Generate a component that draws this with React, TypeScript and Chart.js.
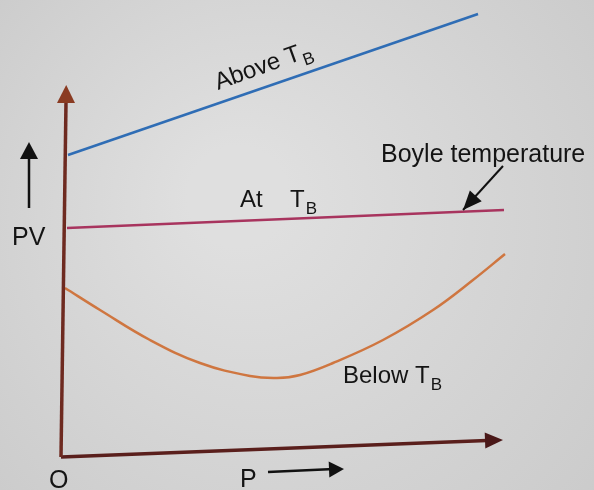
import React, { useEffect, useRef } from "react";
import { Chart, registerables } from "chart.js";

Chart.register(...registerables);

// Curves (abstract P, PV units)
const aboveX = [0.12, 8.32];
const aboveY = [6.04, 8.86];
const atX = [0.1, 8.84];
const atY = [4.58, 4.94];
const belowX = [0.06, 0.76, 1.76, 2.76, 3.76, 4.3, 4.76, 5.42, 6.42, 7.42, 8.22, 8.86];
const belowY = [3.38, 2.94, 2.34, 1.88, 1.62, 1.58, 1.64, 1.88, 2.34, 2.94, 3.54, 4.06];
// Axis lines (slightly tilted as in the photographed figure)
const yAxisX = [-0.02, 0.08];
const yAxisY = [0, 7.1];
const xAxisX = [-0.02, 8.5];
const xAxisY = [0, 0.33];

const zip = (xs: number[], ys: number[]) => xs.map((x, i) => ({ x, y: ys[i] }));

const FONT = "'Liberation Sans', Arial, Helvetica, sans-serif";

const annotationPlugin = {
  id: "annotations",
  beforeDraw(chart: any) {
    const { ctx, width, height } = chart;
    ctx.save();
    const g = ctx.createRadialGradient(width * 0.4, height * 0.4, 50, width * 0.5, height * 0.5, 420);
    g.addColorStop(0, "#dfdfdf");
    g.addColorStop(1, "#cacaca");
    ctx.fillStyle = g;
    ctx.fillRect(0, 0, width, height);
    ctx.restore();
  },
  afterDraw(chart: any) {
    const { ctx } = chart;
    const xs = chart.scales.x;
    const ys = chart.scales.y;
    const P = (x: number, y: number) => [xs.getPixelForValue(x), ys.getPixelForValue(y)];

    const arrowHead = (tip: number[], from: number[], len: number, half: number, color: string) => {
      const ang = Math.atan2(tip[1] - from[1], tip[0] - from[0]);
      ctx.save();
      ctx.translate(tip[0], tip[1]);
      ctx.rotate(ang);
      ctx.beginPath();
      ctx.moveTo(0, 0);
      ctx.lineTo(-len, -half);
      ctx.lineTo(-len, half);
      ctx.closePath();
      ctx.fillStyle = color;
      ctx.fill();
      ctx.restore();
    };
    const line = (a: number[], b: number[], color: string, w: number) => {
      ctx.save();
      ctx.beginPath();
      ctx.moveTo(a[0], a[1]);
      ctx.lineTo(b[0], b[1]);
      ctx.strokeStyle = color;
      ctx.lineWidth = w;
      ctx.stroke();
      ctx.restore();
    };
    const textTB = (pos: number[], main: string, rot = 0) => {
      ctx.save();
      ctx.translate(pos[0], pos[1]);
      ctx.rotate(rot);
      ctx.fillStyle = "#141414";
      ctx.textBaseline = "alphabetic";
      ctx.textAlign = "left";
      ctx.font = `24px ${FONT}`;
      ctx.fillText(main, 0, 0);
      const w = ctx.measureText(main).width;
      ctx.font = `17px ${FONT}`;
      ctx.fillText("B", w + 1, 7);
      ctx.restore();
    };
    const text = (pos: number[], s: string, size = 24) => {
      ctx.save();
      ctx.fillStyle = "#141414";
      ctx.font = `${size}px ${FONT}`;
      ctx.textAlign = "left";
      ctx.textBaseline = "alphabetic";
      ctx.fillText(s, pos[0], pos[1]);
      ctx.restore();
    };

    // axis arrowheads
    const yTop = P(yAxisX[1], yAxisY[1]);
    arrowHead([yTop[0] + 0.2, yTop[1] - 17], yTop, 18, 9, "#8a3b22");
    const xEnd = P(xAxisX[1], xAxisY[1]);
    arrowHead([xEnd[0] + 16, xEnd[1] - 0.6], xEnd, 18, 8, "#4a1818");

    // labels
    textTB(P(3.12, 7.34), "Above T", (-20 * Math.PI) / 180);
    text(P(3.56, 5.0), "At");
    textTB(P(4.56, 5.0), "T");
    text(P(-1.0, 4.24), "PV", 25);
    const ua = P(-0.66, 4.98);
    const ub = P(-0.66, 6.3);
    line(ua, [ub[0], ub[1] + 14], "#111", 2.5);
    arrowHead(ub, ua, 17, 9, "#111");
    text(P(6.38, 5.9), "Boyle temperature", 25);
    const ba = P(8.82, 5.82);
    const bb = P(8.02, 4.94);
    line(ba, bb, "#111", 2);
    arrowHead(bb, ba, 19, 8, "#111");
    textTB(P(5.62, 1.48), "Below T");
    text(P(-0.26, -0.62), "O", 25);
    text(P(3.56, -0.6), "P", 25);
    const pa = P(4.12, -0.3);
    const pb = P(5.64, -0.24);
    line(pa, [pb[0] - 10, pb[1]], "#111", 2.5);
    arrowHead(pb, pa, 15, 8, "#111");
  },
};

export default function App() {
  const ref = useRef<HTMLCanvasElement>(null);
  useEffect(() => {
    document.body.style.margin = "0";
    const chart = new Chart(ref.current!, {
      type: "scatter",
      data: {
        datasets: [
          { label: "y-axis", data: zip(yAxisX, yAxisY), showLine: true, borderColor: "#6e2a20", borderWidth: 3.5, pointRadius: 0 },
          { label: "x-axis", data: zip(xAxisX, xAxisY), showLine: true, borderColor: "#5a1f1c", borderWidth: 3.5, pointRadius: 0 },
          { label: "Above TB", data: zip(aboveX, aboveY), showLine: true, borderColor: "#2f6db5", borderWidth: 2.5, pointRadius: 0 },
          { label: "At TB", data: zip(atX, atY), showLine: true, borderColor: "#a8345e", borderWidth: 2.5, pointRadius: 0 },
          { label: "Below TB", data: zip(belowX, belowY), showLine: true, borderColor: "#cf7640", borderWidth: 2.5, pointRadius: 0, tension: 0.4 },
        ],
      },
      options: {
        animation: false,
        responsive: false,
        layout: { padding: { left: 62, top: 7, right: 32, bottom: 33 } },
        scales: {
          x: { type: "linear", min: 0, max: 10, display: false },
          y: { type: "linear", min: 0, max: 9, display: false },
        },
        plugins: { legend: { display: false }, tooltip: { enabled: false } },
        clip: false as any,
      },
      plugins: [annotationPlugin],
    });
    return () => chart.destroy();
  }, []);
  return (
    <div style={{ width: 594, height: 490 }}>
      <canvas ref={ref} width={594} height={490} style={{ display: "block" }} />
    </div>
  );
}
